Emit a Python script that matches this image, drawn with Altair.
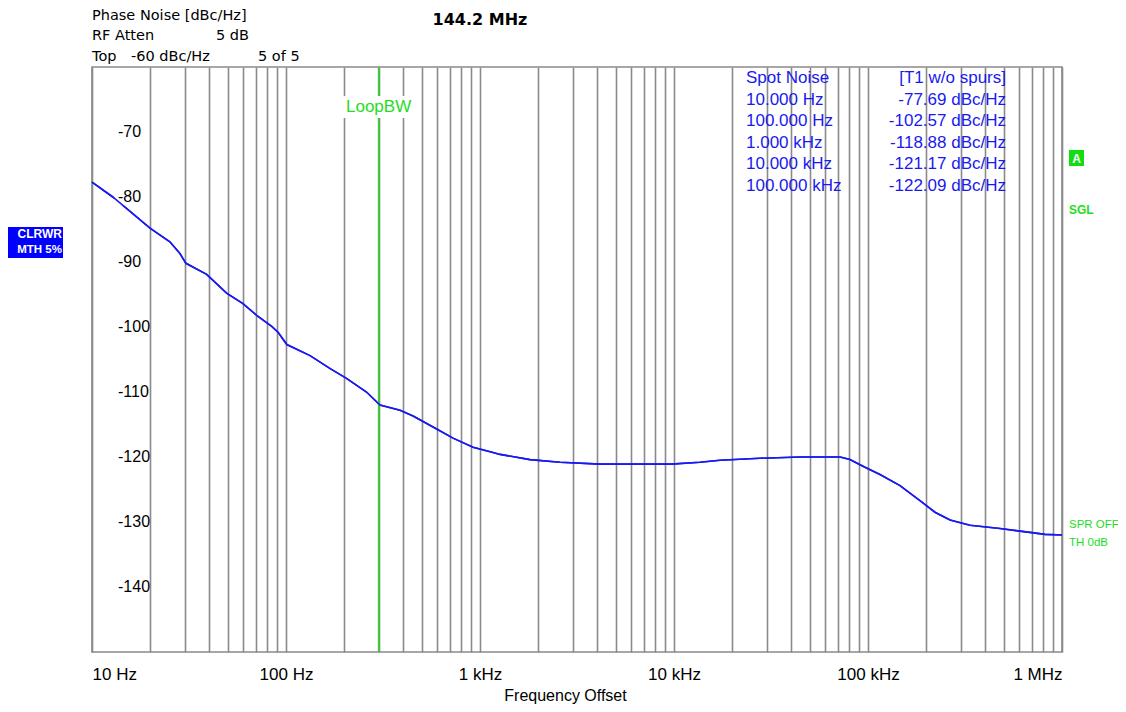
import altair as alt
import pandas as pd

# ---- data ----
freq = [10, 12.8, 19.9, 25.2, 28.4, 30.5, 39, 49.4, 60, 70.6, 84.4, 91, 101, 133, 169,
        205, 260, 305, 387, 452, 598, 726, 921, 1167, 1268, 1811, 2585, 4155, 6680,
        9660, 13620, 17260, 27740, 44570, 71740, 80720, 95300, 115300, 146200, 185300,
        221500, 264800, 335600, 479000, 683000, 817000, 1000000]
noise = [-77.7, -80.0, -84.8, -86.9, -88.7, -90.2, -91.9, -94.8, -96.4, -98.2, -99.9,
         -100.8, -102.7, -104.4, -106.4, -107.9, -110.0, -112.0, -112.8, -113.7, -115.7,
         -117.1, -118.5, -119.3, -119.6, -120.4, -120.8, -121.1, -121.1, -121.1, -120.8,
         -120.5, -120.2, -120.0, -120.0, -120.4, -121.5, -122.7, -124.4, -126.7, -128.5,
         -129.7, -130.5, -131.0, -131.6, -131.9, -132.0]

x_label_values = [10, 100, 1000, 10000, 100000, 1000000]
x_label_texts = ["10 Hz", "100 Hz", "1 kHz", "10 kHz", "100 kHz", "1 MHz"]
y_grid_values = [-150, -140, -130, -120, -110, -100, -90, -80, -70, -60]
y_label_values = [-70, -80, -90, -100, -110, -120, -130, -140]

loop_bw = [300]

spot_rows = ["Spot Noise", "10.000 Hz", "100.000 Hz", "1.000 kHz", "10.000 kHz", "100.000 kHz"]
spot_vals = ["[T1 w/o spurs]", "-77.69 dBc/Hz", "-102.57 dBc/Hz", "-118.88 dBc/Hz",
             "-121.17 dBc/Hz", "-122.09 dBc/Hz"]

# minor grid: 1..9 per decade
grid_x = []
for d in [10, 100, 1000, 10000, 100000]:
    for m in range(1, 10):
        grid_x.append(d * m)
grid_x.append(1000000)

label_expr = " : ".join(
    f"datum.value == {v} ? '{t}'" for v, t in zip(x_label_values, x_label_texts)
) + " : ''"

GRID = "#8a8a8a"
BLUE = "#1a1aee"
GREEN = "#22dd22"
FONT = "Liberation Sans"
HFONT = "DejaVu Sans"

xscale = alt.Scale(type="log", domain=[10, 1000000], nice=False)
yscale = alt.Scale(domain=[-150, -60], nice=False, zero=False)

curve_df = pd.DataFrame({"f": freq, "n": noise})

curve = alt.Chart(curve_df).mark_line(color=BLUE, strokeWidth=1.6).encode(
    x=alt.X("f:Q", scale=xscale,
            axis=alt.Axis(values=grid_x, grid=True, gridColor=GRID, gridWidth=1.6,
                          gridOpacity=1, ticks=False, domain=False,
                          labelExpr=label_expr, labelOverlap=False, labelFlush=True,
                          labelFont=FONT, labelFontSize=17, labelColor="black",
                          labelPadding=14, title="Frequency Offset", titleFont=FONT,
                          titleFontSize=16, titleFontWeight="normal", titleColor="black",
                          titlePadding=5, titleX=473)),
    y=alt.Y("n:Q", scale=yscale,
            axis=alt.Axis(values=y_grid_values, grid=True, gridColor=GRID, gridWidth=1.6,
                          gridOpacity=1, labels=False, ticks=False, domain=False,
                          title=None)),
)

# LoopBW marker
lbw_df = pd.DataFrame({"f": loop_bw})
lbw_rule = alt.Chart(lbw_df).mark_rule(color=GREEN, strokeWidth=1.5).encode(
    x=alt.X("f:Q", scale=xscale))
lbw_bg = alt.Chart(lbw_df).mark_point(
    shape="M-1,-0.3L1,-0.3L1,0.3L-1,0.3Z", filled=True, color="white", opacity=1,
    size=74 * 74).encode(x=alt.X("f:Q", scale=xscale), y=alt.value(40))
lbw_text = alt.Chart(lbw_df).mark_text(
    text="LoopBW", color=GREEN, font=FONT, fontSize=17, align="center",
    baseline="middle").encode(x=alt.X("f:Q", scale=xscale), y=alt.value(40))

# y labels inside the plot
ylab_df = pd.DataFrame({"v": y_label_values})
ylab_df["lo"] = ylab_df["v"] - 1.3
ylab_df["hi"] = ylab_df["v"] + 1.3
ylab_df["t"] = ylab_df["v"].astype(str)
ylab_bg = alt.Chart(ylab_df).mark_rect(color="white").encode(
    x=alt.value(22), x2=alt.value(57),
    y=alt.Y("lo:Q", scale=yscale, axis=None), y2="hi:Q")
ylab_text = alt.Chart(ylab_df).mark_text(
    font=FONT, fontSize=16, color="black", align="left", baseline="middle").encode(
    x=alt.value(26), y=alt.Y("v:Q", scale=yscale, axis=None), text="t:N")

one = pd.DataFrame({"a": [0]})


def label(text, x, y, color="black", size=14, font=FONT, weight="normal", align="left"):
    return alt.Chart(one).mark_text(
        text=text, color=color, fontSize=size, font=font, fontWeight=weight,
        align=align, baseline="middle").encode(x=alt.value(x), y=alt.value(y))


annotations = [
    label("Phase Noise [dBc/Hz]", 0, -51.5, size=14.5, font=HFONT),
    label("RF Atten", 0, -31, size=14.5, font=HFONT),
    label("5 dB", 124, -31, size=14.5, font=HFONT),
    label("Top", 0, -10, size=14.5, font=HFONT),
    label("-60 dBc/Hz", 39, -10, size=14.5, font=HFONT),
    label("5 of 5", 166, -10, size=14.5, font=HFONT),
    label("144.2 MHz", 388, -47, size=16, font=HFONT, weight="bold", align="center"),
]
for i, (r, v) in enumerate(zip(spot_rows, spot_vals)):
    yy = 11 + i * 21.5
    annotations.append(label(r, 654, yy, color=BLUE, size=17))
    annotations.append(label(v, 914, yy, color=BLUE, size=17, align="right"))

# side indicators
a_box = alt.Chart(one).mark_rect(color="#11dd11").encode(
    x=alt.value(977), x2=alt.value(992), y=alt.value(83), y2=alt.value(99))
clr_box = alt.Chart(one).mark_rect(color="#0000ff").encode(
    x=alt.value(-84), x2=alt.value(-29), y=alt.value(160), y2=alt.value(191))
annotations += [
    a_box,
    label("A", 984.5, 91.5, color="white", size=12, weight="bold", align="center"),
    label("SGL", 977, 143, color=GREEN, size=12, weight="bold"),
    label("SPR OFF", 977, 458, color=GREEN, size=11.5),
    label("TH 0dB", 977, 476, color=GREEN, size=11.5),
    clr_box,
    label("CLRWR", -30, 167, color="white", size=12, weight="bold", align="right"),
    label("MTH 5%", -30, 183, color="white", size=11.5, weight="bold", align="right"),
]

chart = alt.layer(
    curve, lbw_rule, lbw_bg, lbw_text, ylab_bg, ylab_text, curve, *annotations
).properties(
    width=970, height=585,
    autosize=alt.AutoSizeParams(type="none"),
    padding={"left": 84, "top": 59, "right": 56, "bottom": 58},
    background="white",
).configure_view(stroke=GRID, strokeWidth=1.6)

chart.save("out.html", embed_options={"renderer": "svg", "actions": False})
